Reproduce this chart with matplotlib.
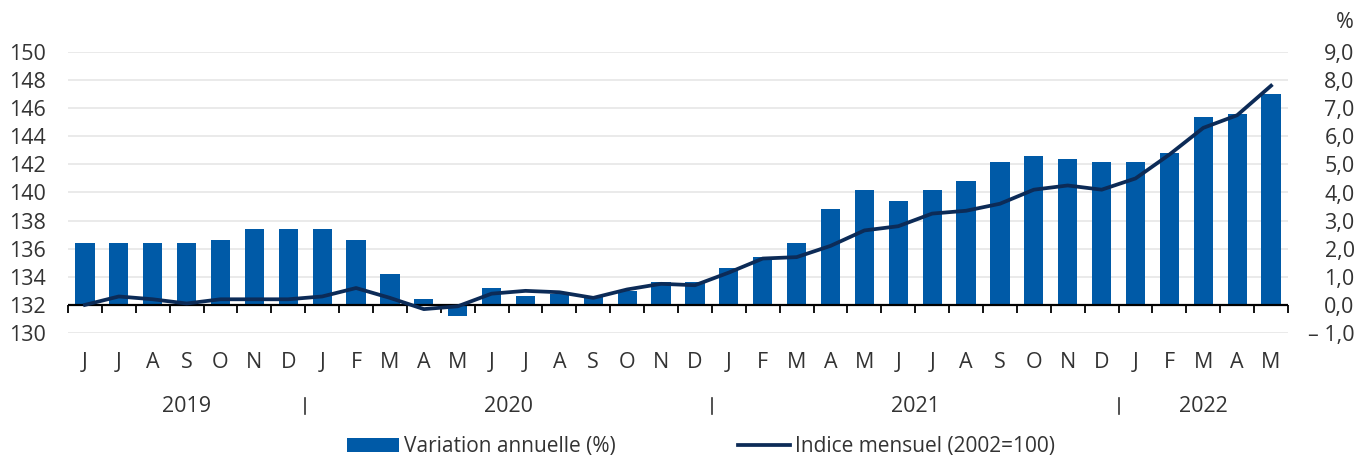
import matplotlib
matplotlib.use("Agg")
import matplotlib.pyplot as plt
import matplotlib.transforms as mtransforms
import numpy as np

plt.rcParams['font.family'] = ['Open Sans', 'DejaVu Sans']

# Data, June 2019 -> May 2022
months = ['J', 'J', 'A', 'S', 'O', 'N', 'D',
          'J', 'F', 'M', 'A', 'M', 'J', 'J', 'A', 'S', 'O', 'N', 'D',
          'J', 'F', 'M', 'A', 'M', 'J', 'J', 'A', 'S', 'O', 'N', 'D',
          'J', 'F', 'M', 'A', 'M']
annual_change = [2.2, 2.2, 2.2, 2.2, 2.3, 2.7, 2.7,
                 2.7, 2.3, 1.1, 0.2, -0.4, 0.6, 0.3, 0.4, 0.3, 0.5, 0.8, 0.8,
                 1.3, 1.7, 2.2, 3.4, 4.1, 3.7, 4.1, 4.4, 5.1, 5.3, 5.2, 5.1,
                 5.1, 5.4, 6.7, 6.8, 7.5]
monthly_index = [132.0, 132.6, 132.4, 132.1, 132.4, 132.4, 132.4,
                 132.6, 133.2, 132.5, 131.7, 131.9, 132.8, 133.0, 132.9, 132.5, 133.1, 133.5, 133.4,
                 134.3, 135.3, 135.4, 136.2, 137.3, 137.6, 138.5, 138.7, 139.2, 140.2, 140.5, 140.2,
                 141.0, 142.7, 144.6, 145.5, 147.6]
years = ['2019', '2020', '2021', '2022']
year_first_month = [0, 7, 19, 31]
year_last_month = [6, 18, 30, 35]

left_ticks = [130, 132, 134, 136, 138, 140, 142, 144, 146, 148, 150]
right_ticks = [-1, 0, 1, 2, 3, 4, 5, 6, 7, 8, 9]
right_labels = ['\u2013 1,0', '0,0', '1,0', '2,0', '3,0', '4,0', '5,0', '6,0', '7,0', '8,0', '9,0']

BAR_COLOR = '#005aa7'
LINE_COLOR = '#0c2b57'
TEXT_COLOR = '#333333'
FS = 15.5

fig = plt.figure(figsize=(13.69, 4.61), dpi=100)
ax = fig.add_axes([68 / 1369, 1 - 333 / 461, (1288 - 68) / 1369, (333 - 52) / 461])
ax2 = ax.twinx()
x = np.arange(len(months))

# Bars on the percent scale (right side)
ax.bar(x, annual_change, width=0.57, color=BAR_COLOR, zorder=2,
       label='Variation annuelle (%)')
ax.set_ylim(-1, 9)
ax.set_xlim(-0.5, len(months) - 0.5)
ax.set_yticks(right_ticks, right_labels)
ax.yaxis.tick_right()
ax.yaxis.set_label_position('right')
ax.tick_params(axis='y', length=0, pad=48, labelsize=FS, labelcolor=TEXT_COLOR)
for lbl in ax.get_yticklabels():
    lbl.set_horizontalalignment('right')
ax.grid(axis='y', color='#e6e6e6', linewidth=1.2, zorder=0)
ax.set_axisbelow(True)
ax.axhline(0, color='black', linewidth=1.6, zorder=3)
ax.vlines(np.arange(len(months) + 1) - 0.5, -0.28, 0, color='black', linewidth=1.3,
          zorder=3, clip_on=False)
ax.set_xticks(x, months)
ax.tick_params(axis='x', length=0, pad=14, labelsize=FS, labelcolor=TEXT_COLOR)
for s in ax.spines.values():
    s.set_visible(False)

# Line on the index scale (left side)
ax2.plot(x, monthly_index, color=LINE_COLOR, linewidth=2.7, zorder=4,
         solid_joinstyle='round', label='Indice mensuel (2002=100)')
ax2.set_ylim(130, 150)
ax2.set_yticks(left_ticks, [str(t) for t in left_ticks])
ax2.yaxis.tick_left()
ax2.yaxis.set_label_position('left')
ax2.tick_params(axis='y', length=0, pad=16, labelsize=FS, labelcolor=TEXT_COLOR)
for s in ax2.spines.values():
    s.set_visible(False)

# Year labels and separators
trans = mtransforms.blended_transform_factory(ax.transData, ax.transAxes)
for name, a, b in zip(years, year_first_month, year_last_month):
    ax.text((a + b) / 2, -0.263, name, transform=trans, ha='center', va='center',
            fontsize=FS, color=TEXT_COLOR)
for b in year_last_month[:-1]:
    ax.plot([b + 0.5, b + 0.5], [-0.232, -0.29], transform=trans, color=TEXT_COLOR,
            linewidth=1.2, clip_on=False)

fig.text(1354 / 1369, 1 - 22 / 461, '%', ha='right', va='center', fontsize=FS,
         color=TEXT_COLOR)

h1, l1 = ax.get_legend_handles_labels()
h2, l2 = ax2.get_legend_handles_labels()
leg = fig.legend(h1 + h2, l1 + l2, loc='center', bbox_to_anchor=(0.512, 0.031),
                 ncol=2, frameon=False, fontsize=15, handlelength=2.5,
                 handleheight=0.65, handletextpad=0.2, columnspacing=5.9,
                 borderaxespad=0, borderpad=0)
for t in leg.get_texts():
    t.set_color(TEXT_COLOR)

fig.savefig('out.png', dpi=100)
